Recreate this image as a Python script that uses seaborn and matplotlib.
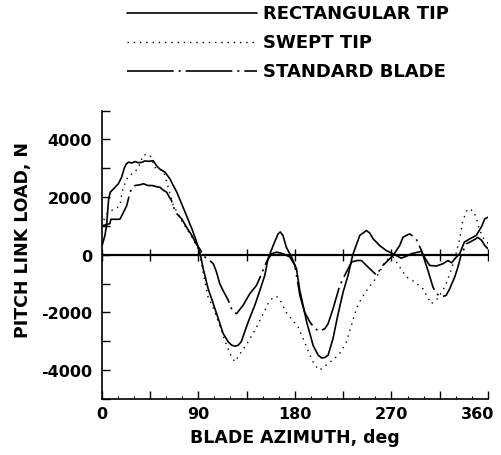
import numpy as np
import pandas as pd
import matplotlib
matplotlib.use("Agg")
import matplotlib.pyplot as plt
import matplotlib.transforms as mtransforms
from matplotlib.lines import Line2D
import seaborn as sns

# ---------------- data ----------------
rect_deg = [0, 3, 4.5, 6.5, 8, 12.5, 15.5, 18.6, 21, 23, 25, 28, 31, 34, 37, 40, 44, 48, 51, 54,
            59, 63.6, 66.7, 70, 74.5, 79, 84, 88, 90, 92, 94.6, 99.2, 104, 108.6, 113.2, 117.9,
            121, 124, 127, 130, 136.5, 142.7, 147.4, 152, 155, 159.8, 164.4, 166.5, 169, 172,
            177, 181.5, 184.6, 187, 191, 197, 201.7, 205, 208, 211, 215.6, 220, 225, 229.6, 234,
            240.5, 246.7, 249.8, 253, 259, 265, 270, 274.6, 279, 284, 288.6, 294.8, 298, 301,
            305.6, 312, 318, 322.7, 326, 330.5, 333.6, 338, 343, 349, 353.8, 357, 360]
rect_load = [270, 670, 1010, 1940, 2170, 2340, 2460, 2690, 3000, 3150, 3210, 3180, 3230, 3190,
             3200, 3250, 3240, 3260, 3090, 2975, 2860, 2630, 2400, 2170, 1765, 1360, 900, 495,
             250, 0, -485, -1180, -1700, -2210, -2730, -3020, -3130, -3170, -3140, -3020, -2330,
             -1750, -1235, -715, -140, 320, 725, 790, 660, 265, -80, -485, -1235, -1640, -2330,
             -3140, -3480, -3580, -3560, -3480, -2900, -2100, -1290, -715, 0, 670, 840, 750, 550,
             320, 150, 60, -25, -120, -50, 35, 90, 120, -100, -370, -390, -310, -200, -280, -80,
             35, 440, 550, 670, 960, 1245, 1300]

swept_deg = [0, 3, 5, 10, 15, 17, 19, 22, 25, 31, 35, 38.6, 42, 45, 49.6, 54, 57.4, 60, 63, 66.7,
             70, 75, 80, 85, 90, 93, 96, 99, 104, 110, 115, 119.5, 124, 130, 136.5, 142.7, 149,
             155, 159.8, 163, 166, 172, 178.4, 183, 189, 194, 198.6, 203, 209, 217, 223, 228,
             232.7, 237.4, 242, 248, 254, 260.7, 265, 271.5, 277.7, 284, 291.7, 299.4, 307, 313,
             320, 325, 330, 333.6, 336.6, 341, 346, 349, 351, 355, 360]
swept_load = [1000, 1300, 1420, 1550, 1650, 1700, 2170, 2500, 2740, 2860, 3100, 3450, 3480, 3450,
              3030, 2950, 2920, 2600, 2200, 1700, 1500, 1150, 850, 550, 200, -300, -900, -1450,
              -1850, -2450, -3000, -3430, -3710, -3370, -3020, -2620, -2160, -1700, -1465, -1450,
              -1550, -2000, -2300, -2500, -3020, -3480, -3830, -4000, -3830, -3600, -3370, -3020,
              -2450, -1870, -1520, -1180, -890, -485, -180, -80, -425, -770, -945, -1180, -1700,
              -1520, -1100, -600, 0, 550, 1190, 1590, 1530, 1300, 1000, 600, 400]

std_deg = [0, 4, 7.7, 8.5, 12, 17, 20, 23.3, 26.3, 28, 31, 35, 39, 43, 47, 51, 54.3, 57, 60.5, 63,
           65, 68, 70, 74.5, 79, 84, 88, 91.5, 95, 99, 104, 107, 110, 113, 118, 121, 123.5, 125.7,
           131.8, 138, 144.3, 149, 153.6, 158.3, 163, 169, 175.5, 180, 184.7, 189, 194, 198.6,
           203, 208, 211, 215.6, 221.9, 228, 233, 238, 242, 249.8, 256, 262, 266.8, 272, 277.7,
           280.8, 287, 293, 298, 301, 304.5, 308.7, 312, 316.5, 321, 324.3, 329, 332, 335, 340,
           346, 350.6, 354, 357, 360]
std_load = [1000, 1040, 1080, 1230, 1230, 1230, 1450, 1700, 2150, 2300, 2400, 2420, 2460, 2400,
            2400, 2360, 2340, 2250, 2170, 2000, 1880, 1550, 1420, 1245, 960, 670, 380, 200, -50,
            -150, -310, -600, -1000, -1235, -1580, -1870, -2000, -2040, -1750, -1350, -1060, -660,
            -250, 35, 90, 35, -80, -370, -1410, -1980, -2330, -2560, -2650, -2560, -2390, -1870,
            -1060, -600, -250, -200, -200, -485, -700, -370, -200, 0, 320, 610, 725, 550, 150,
            -200, -600, -1120, -1350, -1460, -1410, -1180, -770, -425, 0, 380, 495, 600, 500, 320,
            200]

series_names = ["RECTANGULAR TIP", "SWEPT TIP", "STANDARD BLADE"]
x_ticks = [0, 45, 90, 135, 180, 225, 270, 315, 360]
x_ticklabels = ["0", "", "90", "", "180", "", "270", "", "360"]
y_ticks = [-5000, -4000, -3000, -2000, -1000, 0, 1000, 2000, 3000, 4000, 5000]
y_ticklabels = ["", "-4000", "", "-2000", "", "0", "", "2000", "", "4000", ""]

# ---------------- style ----------------
sns.set_style("ticks")
plt.rcParams["font.family"] = ["DejaVu Sans"]
plt.rcParams["font.weight"] = "bold"
plt.rcParams["text.color"] = "black"
plt.rcParams["axes.labelcolor"] = "black"

W, H = 502, 456
fig = plt.figure(figsize=(W / 100, H / 100), dpi=100)
ax_left, ax_right, ax_top, ax_bottom = 101.7, 488.0, 111.5, 400.0
ax = fig.add_axes([ax_left / W, 1 - ax_bottom / H, (ax_right - ax_left) / W, (ax_bottom - ax_top) / H])

styles = {
    "RECTANGULAR TIP": dict(linestyle="-", linewidth=1.2),
    "SWEPT TIP": dict(linestyle=(0, (1, 3.5)), linewidth=1.0),
    "STANDARD BLADE": dict(linestyle=(0, (28, 3, 1.2, 3)), linewidth=1.2),
}
frames = {
    "RECTANGULAR TIP": pd.DataFrame({"deg": rect_deg, "load": rect_load}),
    "SWEPT TIP": pd.DataFrame({"deg": swept_deg, "load": swept_load}),
    "STANDARD BLADE": pd.DataFrame({"deg": std_deg, "load": std_load}),
}
for name in series_names:
    sns.lineplot(data=frames[name], x="deg", y="load", ax=ax, color="black",
                 estimator=None, sort=False, **styles[name])

# zero reference line with its ticks
ax.axhline(0, color="black", lw=1.6, zorder=3)
ax.plot(x_ticks, [0] * len(x_ticks), ls="none", marker="|", ms=8, mew=1.0, color="black", zorder=3)

ax.set_xlim(0, 360)
ax.set_ylim(-5000, 5000)
ax.set_xticks(x_ticks)
ax.set_xticklabels(x_ticklabels)
ax.set_yticks(y_ticks)
ax.set_yticklabels(y_ticklabels)
ax.set_xticks(np.arange(0, 361, 15), minor=True)
ax.tick_params(axis="both", which="major", direction="in", length=6, width=1.0,
               labelsize=11.5, colors="black")
ax.tick_params(axis="x", which="major", pad=5)
ax.tick_params(axis="y", which="major", pad=7)
ax.tick_params(axis="x", which="minor", direction="in", length=2, width=0.8, colors="black")

# the last x tick label sits slightly left of its tick in the reference
last_lbl = ax.get_xticklabels()[-1]
last_lbl.set_transform(last_lbl.get_transform() +
                       mtransforms.ScaledTranslation(-10 / 100, 0, fig.dpi_scale_trans))

for s in ["top", "right"]:
    ax.spines[s].set_visible(False)
for s in ["left", "bottom"]:
    ax.spines[s].set_linewidth(1.2)
    ax.spines[s].set_color("black")

ax.set_xlabel("BLADE AZIMUTH, deg", fontsize=12.5, fontweight="bold", labelpad=5, color="black")
ax.set_ylabel("PITCH LINK LOAD, N", fontsize=12.5, fontweight="bold", color="black")
ax.yaxis.set_label_coords((32 - ax_left) / (ax_right - ax_left), (ax_bottom - 240) / (ax_bottom - ax_top))

# legend (drawn at figure level, above the axes)
leg_rows = [14, 43, 72]
for name, yy in zip(series_names, leg_rows):
    st = styles[name]
    fig.add_artist(Line2D([127 / W, 257 / W], [1 - yy / H, 1 - yy / H], color="black",
                          transform=fig.transFigure, **st))
    fig.text(263 / W, 1 - yy / H, name, ha="left", va="center", fontsize=13,
             fontweight="bold", color="black")

fig.savefig("out.png", dpi=100)
